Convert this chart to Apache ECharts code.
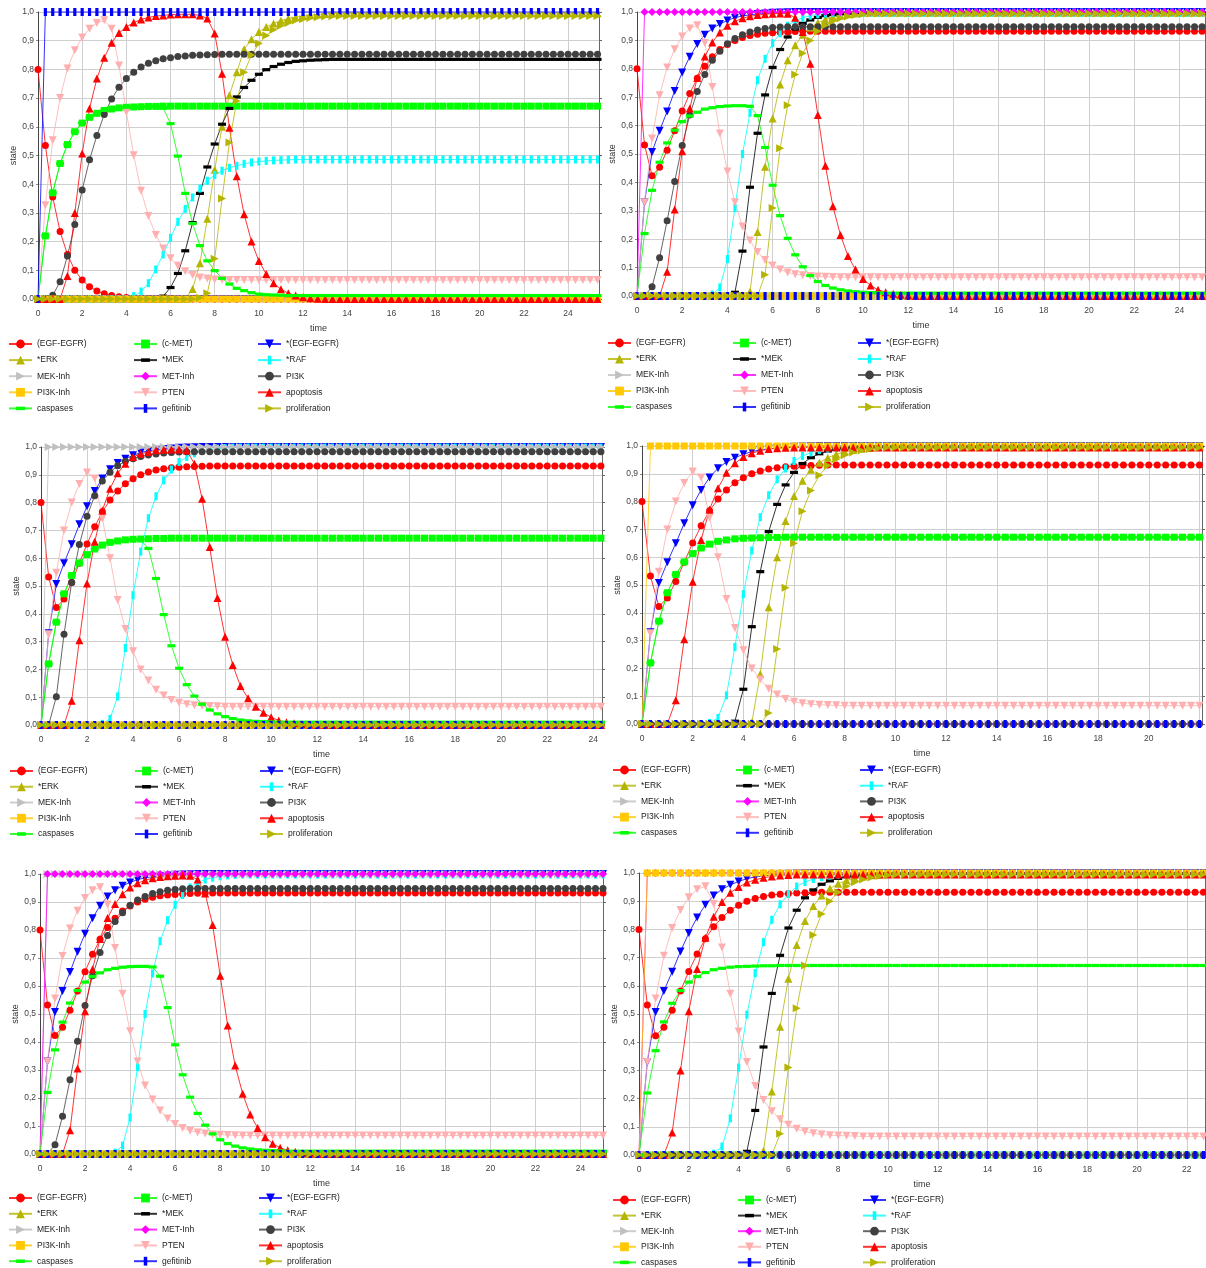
<!DOCTYPE html>
<html>
<head>
<meta charset="utf-8">
<title>state / time</title>
<script src="https://cdn.jsdelivr.net/npm/echarts/dist/echarts.min.js"></script>
<style>
  html, body { margin: 0; padding: 0; background: #fff; }
  #chart { width: 1206px; height: 1268px; }
</style>
</head>
<body>
<div id="chart"></div>
<script>
// one marker every 1/3 time unit; each curve holds its last read value to the end
var dt = 1 / 3;

var names = ['(EGF-EGFR)', '(c-MET)', '*(EGF-EGFR)', '*ERK', '*MEK', '*RAF', 'MEK-Inh', 'MET-Inh',
  'PI3K', 'PI3K-Inh', 'PTEN', 'apoptosis', 'caspases', 'gefitinib', 'proliferation'];

// shared curves
var zero = [0];
var stepOn = [0, 1];
var egfNoDrug = [0.8, 0.535, 0.355, 0.235, 0.155, 0.1, 0.066, 0.043, 0.028, 0.018, 0.012, 0.008, 0.005, 0.003, 0.002, 0.001, 0];
var egfDip = [0.8, 0.532, 0.423, 0.453, 0.513, 0.582, 0.651, 0.713, 0.767, 0.809, 0.842, 0.868, 0.886, 0.9, 0.91, 0.917, 0.922, 0.925, 0.927, 0.929, 0.93, 0.931, 0.932];
var cmetRise = [0, 0.22, 0.37, 0.472, 0.538, 0.583, 0.613, 0.633, 0.647, 0.657, 0.662, 0.666, 0.668, 0.669, 0.67, 0.671, 0.671, 0.672];
var egfrActive = [0, 0.33, 0.507, 0.582, 0.65, 0.722, 0.787, 0.842, 0.887, 0.92, 0.942, 0.958, 0.97, 0.98, 0.986, 0.99, 0.993, 0.995, 0.997, 0.998, 0.999, 1];

// panel 1 (gefitinib)
var casp1 = [0, 0.22, 0.37, 0.472, 0.538, 0.583, 0.613, 0.633, 0.647, 0.657, 0.662, 0.666, 0.668, 0.669, 0.67, 0.671, 0.671, 0.665, 0.611, 0.498, 0.368, 0.263, 0.186, 0.133, 0.099, 0.072, 0.052, 0.037, 0.029, 0.022, 0.017, 0.015, 0.014, 0.013, 0.012];
var raf1 = [0, 0, 0, 0, 0, 0, 0, 0, 0, 0, 0, 0, 0, 0.01, 0.026, 0.055, 0.103, 0.155, 0.213, 0.269, 0.314, 0.354, 0.385, 0.412, 0.432, 0.447, 0.457, 0.464, 0.471, 0.476, 0.479, 0.481, 0.483, 0.484, 0.485, 0.486];
var mek1 = [0, 0, 0, 0, 0, 0, 0, 0, 0, 0, 0, 0, 0, 0, 0, 0, 0, 0.01, 0.04, 0.089, 0.168, 0.266, 0.368, 0.46, 0.54, 0.609, 0.664, 0.704, 0.737, 0.762, 0.783, 0.799, 0.81, 0.818, 0.824, 0.828, 0.83, 0.832, 0.833, 0.834, 0.835];
var erk1 = [0, 0, 0, 0, 0, 0, 0, 0, 0, 0, 0, 0, 0, 0, 0, 0, 0, 0, 0, 0, 0, 0.035, 0.125, 0.28, 0.45, 0.6, 0.71, 0.79, 0.87, 0.905, 0.93, 0.948, 0.96, 0.97, 0.977, 0.982, 0.986, 0.989, 0.991, 0.993, 0.995, 0.996];
var prolif1 = [0, 0, 0, 0, 0, 0, 0, 0, 0, 0, 0, 0, 0, 0, 0, 0, 0, 0, 0, 0, 0, 0, 0.004, 0.02, 0.14, 0.35, 0.545, 0.69, 0.79, 0.85, 0.89, 0.918, 0.938, 0.952, 0.962, 0.97, 0.975, 0.979, 0.982, 0.984, 0.985, 0.986];
var pi3k1 = [0, 0, 0.013, 0.06, 0.15, 0.26, 0.38, 0.485, 0.57, 0.643, 0.697, 0.738, 0.768, 0.79, 0.808, 0.821, 0.83, 0.837, 0.841, 0.845, 0.847, 0.849, 0.85, 0.851, 0.852, 0.853];
var pten1 = [0, 0.327, 0.553, 0.7, 0.803, 0.867, 0.911, 0.942, 0.962, 0.971, 0.942, 0.814, 0.652, 0.501, 0.377, 0.289, 0.223, 0.176, 0.142, 0.116, 0.097, 0.084, 0.075, 0.071, 0.068, 0.067, 0.066];
var apop1 = [0, 0, 0, 0, 0.08, 0.3, 0.507, 0.664, 0.768, 0.841, 0.893, 0.927, 0.948, 0.963, 0.974, 0.981, 0.986, 0.988, 0.991, 0.992, 0.992, 0.992, 0.988, 0.977, 0.925, 0.785, 0.597, 0.428, 0.295, 0.2, 0.132, 0.087, 0.055, 0.034, 0.02, 0.012, 0.006, 0.003, 0.001, 0];

// panels 2, 5, 6
var casp2 = [0, 0.22, 0.372, 0.471, 0.539, 0.584, 0.614, 0.634, 0.647, 0.658, 0.663, 0.667, 0.669, 0.67, 0.67, 0.668, 0.635, 0.523, 0.39, 0.283, 0.203, 0.145, 0.103, 0.072, 0.051, 0.037, 0.028, 0.022, 0.018, 0.015, 0.013, 0.012, 0.011, 0.01];
var raf2 = [0, 0, 0, 0, 0, 0, 0, 0, 0, 0, 0.005, 0.03, 0.13, 0.31, 0.5, 0.645, 0.76, 0.835, 0.89, 0.925, 0.952, 0.97, 0.98, 0.987, 0.992, 0.995, 0.997, 0.998];
var mek2 = [0, 0, 0, 0, 0, 0, 0, 0, 0, 0, 0, 0, 0, 0.013, 0.158, 0.383, 0.573, 0.708, 0.805, 0.868, 0.912, 0.94, 0.96, 0.972, 0.981, 0.987, 0.991, 0.994, 0.996, 0.998];
var erk2 = [0, 0, 0, 0, 0, 0, 0, 0, 0, 0, 0, 0, 0, 0, 0, 0.015, 0.225, 0.455, 0.625, 0.745, 0.83, 0.883, 0.92, 0.945, 0.962, 0.974, 0.982, 0.988, 0.992, 0.995, 0.997];
var prolif2 = [0, 0, 0, 0, 0, 0, 0, 0, 0, 0, 0, 0, 0, 0, 0, 0, 0, 0.075, 0.31, 0.52, 0.672, 0.78, 0.855, 0.9, 0.932, 0.953, 0.967, 0.977, 0.984, 0.989, 0.992, 0.995];
var pi3k2 = [0, 0, 0.033, 0.135, 0.265, 0.403, 0.53, 0.637, 0.72, 0.78, 0.83, 0.862, 0.888, 0.907, 0.92, 0.93, 0.937, 0.942, 0.945, 0.947, 0.948];
var pten2 = [0, 0.33, 0.555, 0.707, 0.805, 0.869, 0.914, 0.942, 0.953, 0.891, 0.736, 0.572, 0.438, 0.33, 0.245, 0.195, 0.155, 0.127, 0.107, 0.093, 0.083, 0.077, 0.073, 0.07, 0.069, 0.068, 0.067, 0.066];
var apop2 = [0, 0, 0, 0, 0.085, 0.305, 0.51, 0.66, 0.768, 0.843, 0.893, 0.928, 0.952, 0.967, 0.978, 0.985, 0.989, 0.992, 0.994, 0.995, 0.994, 0.98, 0.93, 0.818, 0.637, 0.459, 0.316, 0.215, 0.141, 0.093, 0.06, 0.037, 0.022, 0.013, 0.008, 0.004, 0.002, 0];
var raf6 = [0, 0, 0, 0, 0, 0, 0, 0, 0, 0.005, 0.03, 0.13, 0.31, 0.498, 0.645, 0.755, 0.834, 0.889, 0.925, 0.952, 0.968, 0.979, 0.986, 0.991, 0.994, 0.996, 0.998];
var apop6 = [0, 0, 0, 0, 0.08, 0.3, 0.51, 0.66, 0.77, 0.845, 0.897, 0.93, 0.95, 0.966, 0.976, 0.983, 0.988, 0.991, 0.993, 0.995];

// panels 3, 4
var raf3 = [0, 0, 0, 0, 0, 0, 0, 0, 0.004, 0.022, 0.103, 0.277, 0.467, 0.624, 0.744, 0.823, 0.88, 0.919, 0.946, 0.964, 0.977, 0.986, 0.991, 0.994, 0.996, 0.998];
var pi3k3 = [0, 0, 0.102, 0.326, 0.513, 0.649, 0.751, 0.825, 0.878, 0.909, 0.933, 0.949, 0.958, 0.966, 0.971, 0.975, 0.978, 0.98, 0.982, 0.983];
var pten3 = [0, 0.326, 0.548, 0.7, 0.8, 0.867, 0.908, 0.887, 0.743, 0.6, 0.45, 0.345, 0.265, 0.2, 0.16, 0.127, 0.106, 0.09, 0.08, 0.075, 0.071, 0.069, 0.068, 0.067, 0.066];
var apop3 = [0, 0, 0, 0, 0.087, 0.305, 0.509, 0.659, 0.772, 0.85, 0.906, 0.94, 0.964, 0.976, 0.982, 0.988, 0.99, 0.991, 0.991, 0.987, 0.94, 0.814, 0.64, 0.457, 0.317, 0.216, 0.14, 0.096, 0.066, 0.044, 0.028, 0.016, 0.01, 0.006, 0.003, 0.001, 0];
var casp3 = [0, 0.22, 0.37, 0.472, 0.538, 0.583, 0.613, 0.633, 0.647, 0.657, 0.662, 0.666, 0.668, 0.665, 0.635, 0.527, 0.397, 0.285, 0.204, 0.145, 0.104, 0.075, 0.054, 0.04, 0.03, 0.023, 0.018, 0.015, 0.013, 0.012, 0.011, 0.01];
var mek4 = [0, 0, 0, 0, 0, 0, 0, 0, 0, 0, 0, 0.01, 0.125, 0.35, 0.548, 0.692, 0.79, 0.86, 0.905, 0.937, 0.958, 0.972, 0.982, 0.988, 0.992, 0.995, 0.997];
var erk4 = [0, 0, 0, 0, 0, 0, 0, 0, 0, 0, 0, 0, 0, 0.005, 0.18, 0.42, 0.6, 0.73, 0.82, 0.875, 0.915, 0.94, 0.958, 0.97, 0.98, 0.986, 0.99, 0.993, 0.996];
var prolif4 = [0, 0, 0, 0, 0, 0, 0, 0, 0, 0, 0, 0, 0, 0, 0, 0.04, 0.27, 0.49, 0.65, 0.765, 0.84, 0.895, 0.93, 0.952, 0.967, 0.977, 0.984, 0.989, 0.992, 0.995];
var apop4 = [0, 0, 0, 0, 0.085, 0.305, 0.512, 0.662, 0.772, 0.848, 0.904, 0.938, 0.96, 0.974, 0.983, 0.989, 0.992, 0.994, 0.995];

// curves per panel, in legend order
var panels = [
  [egfNoDrug, cmetRise, zero, erk1, mek1, raf1, zero, zero, pi3k1, zero, pten1, apop1, casp1, stepOn, prolif1],
  [egfDip, zero, egfrActive, erk2, mek2, raf2, zero, stepOn, pi3k2, zero, pten2, apop2, casp2, zero, prolif2],
  [egfDip, cmetRise, egfrActive, zero, zero, raf3, stepOn, zero, pi3k3, zero, pten3, apop3, casp3, zero, zero],
  [egfDip, cmetRise, egfrActive, erk4, mek4, raf3, zero, zero, zero, stepOn, pten3, apop4, cmetRise, zero, prolif4],
  [egfDip, zero, egfrActive, zero, zero, raf2, stepOn, stepOn, pi3k2, zero, pten2, apop2, casp2, zero, zero],
  [egfDip, zero, egfrActive, erk2, mek2, raf6, zero, stepOn, zero, stepOn, pten2, apop6, cmetRise, zero, prolif2]
];
var lastStep = [76, 75, 73, 66, 75, 68];
var xMax = [25.4, 25.13, 24.38, 22.1, 25.0, 22.73];

// layout
var grids = [
  { left: 38, top: 12, width: 561, height: 287 },
  { left: 637, top: 12, width: 568, height: 284 },
  { left: 41, top: 447, width: 561, height: 278 },
  { left: 642, top: 446, width: 560, height: 278 },
  { left: 40, top: 874, width: 563, height: 280 },
  { left: 639, top: 873, width: 566, height: 282 }
];
var legendCols = [[8, 133, 257], [607, 732, 857], [9, 134, 259], [612, 735, 859], [8, 133, 258], [612, 737, 862]];
var legendTop = [338.5, 337.5, 765.5, 764.5, 1192.5, 1194.5];
var legendGap = [5.1, 5, 4.75, 4.7, 4.8, 4.6];

var hBar = 'path://M0,0M10,10M0,3L10,3L10,7L0,7Z';
var vBar = 'path://M0,0M10,10M3,0L7,0L7,10L3,10Z';
var colors = ['#ff0000', '#00ff00', '#0000ff', '#b5b500', '#000000', '#00ffff', '#c0c0c0', '#ff00ff',
  '#404040', '#ffc800', '#ffafaf', '#ff0000', '#00ff00', '#0000ff', '#b5b500'];
var symbols = ['circle', 'rect', 'triangle', 'triangle', hBar, vBar, 'triangle', 'diamond',
  'circle', 'rect', 'triangle', 'triangle', hBar, vBar, 'triangle'];
var rotations = [0, 0, 180, 0, 0, 0, -90, 0, 0, 0, 180, 0, 0, 0, -90];
var sizes = [7, 7, 8, 8, 8, 8, 8, 8, 7, 7, 8, 8, 8, 8, 8];
var font = "'Liberation Sans', Arial, sans-serif";

function seriesData(values, last) {
  var out = [];
  for (var k = 0; k <= last; k++) {
    out.push([k * dt, values[Math.min(k, values.length - 1)]]);
  }
  return out;
}

var option = { animation: false, backgroundColor: '#fff', grid: [], xAxis: [], yAxis: [], legend: [], series: [] };

panels.forEach(function (panel, p) {
  var g = grids[p];
  option.grid.push({ left: g.left, top: g.top, width: g.width, height: g.height, containLabel: false, outerBoundsMode: 'none' });
  option.xAxis.push({
    gridIndex: p, type: 'value', min: 0, max: xMax[p], interval: 2,
    name: 'time', nameLocation: 'middle', nameGap: 25,
    nameTextStyle: { fontSize: 9, color: '#333', fontFamily: font },
    axisLine: { show: false }, axisTick: { show: false },
    axisLabel: {
      fontSize: 8.5, color: '#444', fontFamily: font, margin: 10, showMaxLabel: false,
      formatter: function (v) { return v > xMax[p] - 0.2 ? '' : String(Math.round(v)); }
    },
    splitLine: { show: true, lineStyle: { color: '#cfcfcf', width: 1 } }
  });
  option.yAxis.push({
    gridIndex: p, type: 'value', min: 0, max: 1, interval: 0.1,
    name: 'state', nameLocation: 'middle', nameGap: 20,
    nameTextStyle: { fontSize: 9, color: '#333', fontFamily: font },
    axisLine: { show: true, lineStyle: { color: '#444' } },
    axisTick: { show: true, length: 2, lineStyle: { color: '#888' } },
    axisLabel: {
      fontSize: 8.5, color: '#444', fontFamily: font, margin: 4,
      formatter: function (v) { return v.toFixed(1).replace('.', ','); }
    },
    splitLine: { show: true, lineStyle: { color: '#cfcfcf', width: 1 } }
  });
  option.yAxis.push({
    gridIndex: p, type: 'value', min: 0, max: 1, interval: 0.1, position: 'right',
    axisLine: { show: true, lineStyle: { color: '#666' } },
    axisTick: { show: true, inside: false, length: 3, lineStyle: { color: '#666' } },
    axisLabel: { show: false }, splitLine: { show: false }
  });

  panel.forEach(function (values, i) {
    option.series.push({
      name: names[i], type: 'line', xAxisIndex: p, yAxisIndex: 2 * p,
      data: seriesData(values, lastStep[p]),
      symbol: symbols[i], symbolSize: sizes[i], symbolRotate: rotations[i],
      clip: false, silent: true,
      itemStyle: { color: colors[i] },
      lineStyle: { color: colors[i], width: 1, opacity: 0.8 }
    });
  });

  for (var c = 0; c < 3; c++) {
    var items = [];
    for (var r = 0; r < 5; r++) items.push(names[r * 3 + c]);
    option.legend.push({
      orient: 'vertical', left: legendCols[p][c], top: legendTop[p],
      itemWidth: 23, itemHeight: 11, itemGap: legendGap[p], padding: 0,
      selectedMode: false, data: items,
      textStyle: { fontSize: 8.5, color: '#222', fontFamily: font, lineHeight: 11 }
    });
  }
});

var chart = echarts.init(document.getElementById('chart'), null, { renderer: 'canvas' });
chart.setOption(option);
</script>
</body>
</html>
